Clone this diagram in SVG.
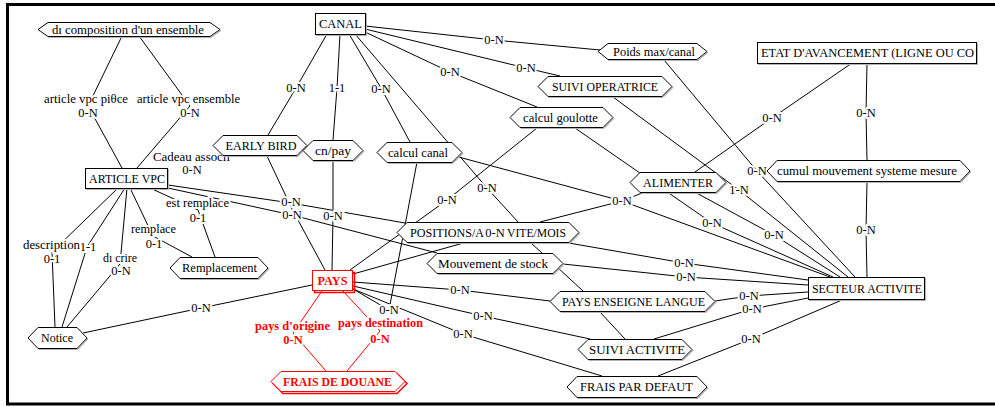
<svg xmlns="http://www.w3.org/2000/svg" width="995" height="407" viewBox="0 0 995 407">
<style>
  .frame { fill: none; stroke: #000; stroke-width: 3; }
  .ln { fill: none; stroke: #000; stroke-width: 1; }
  .red { stroke: #f00; }
  .lb { font-family: "Liberation Serif", "Times New Roman", serif; font-size: 12.5px; text-anchor: middle; fill: #000; stroke: #fff; stroke-width: 4px; paint-order: stroke; stroke-linejoin: round; }
  .lbr { fill: #f00; font-weight: bold; }
  .box { fill: #fff; stroke: #000; stroke-width: 1; filter: url(#drop); }
  .boxr { fill: #fff; stroke: #f00; stroke-width: 1; }
  .shr { fill: none; stroke: #f00; stroke-width: 1.5; }
  .nt { font-family: "Liberation Serif", "Times New Roman", serif; font-size: 12.5px; text-anchor: middle; fill: #000; }
  .st { text-anchor: start; }
  .ntr { fill: #f00; font-weight: bold; }
</style>
<defs>
  <clipPath id="clipEtat"><rect x="758" y="43" width="218" height="20"/></clipPath>
  <!-- thin grey drop shadow under node outlines -->
  <filter id="drop" x="-5%" y="-20%" width="110%" height="150%">
    <feOffset in="SourceAlpha" dx="1" dy="1" result="off"/>
    <feColorMatrix in="off" type="matrix" values="0 0 0 0 0.45  0 0 0 0 0.45  0 0 0 0 0.45  0 0 0 1 0" result="grey"/>
    <feMerge><feMergeNode in="grey"/><feMergeNode in="SourceGraphic"/></feMerge>
  </filter>
</defs>
<rect width="995" height="407" fill="#fff"/>
<rect class="frame" x="7.5" y="4.5" width="1000" height="399.5"/>

<g id="connectors">
  <g class="ln">
    <polyline points="327,34 296,88 268,135"/>
    <polyline points="340,34 337,88 333,140"/>
    <polyline points="349,34 381,88 410,142"/>
    <polyline points="355,34 487,188 518,222"/>
    <polyline points="365,32 450,72 537,107"/>
    <polyline points="365,29 526,68 560,76"/>
    <polyline points="365,26 494,40 600,50"/>
    <polyline points="664,60 757,171 855,277"/>
    <polyline points="613,97 739,190 848,277"/>
    <polyline points="537,128 447,200 350,270"/>
    <polyline points="575,128 712,223 833,277"/>
    <polyline points="852,63 772,118 695,172"/>
    <polyline points="867,63 866,113 867,160"/>
    <polyline points="867,182 866,230 867,277"/>
    <polyline points="678,183 774,235 840,277"/>
    <polyline points="440,152 622,201 830,277"/>
    <polyline points="417,162 389,310 353,289"/>
    <polyline points="540,222 622,201 642,193"/>
    <polyline points="563,242 684,263 808,280"/>
    <polyline points="530,242 583,291"/>
    <polyline points="563,264 686,277 808,285"/>
    <polyline points="715,301 749,296 808,292"/>
    <polyline points="600,312 625,339"/>
    <polyline points="654,339 752,309 808,298"/>
    <polyline points="658,376 751,339 842,300"/>
    <polyline points="353,282 460,290 550,301"/>
    <polyline points="353,286 483,316 590,339"/>
    <polyline points="353,289 463,334 602,376"/>
    <polyline points="312,285 201,308 83,333"/>
    <polyline points="267,156 292,209 325,270"/>
    <polyline points="333,161 333,216 332,270"/>
    <polyline points="353,274 467,242"/>
    <polyline points="122,36 88,106 122,168"/>
    <polyline points="139,36 190,106 137,168"/>
    <polyline points="168,185 291,203 405,223"/>
    <polyline points="168,188 292,215 437,253"/>
    <polyline points="150,188 198,210 215,257"/>
    <polyline points="130,188 153,236 192,257"/>
    <polyline points="118,188 52,252 55,327"/>
    <polyline points="125,188 87,247 62,327"/>
    <polyline points="127,188 120,264 67,327"/>
    <polyline class="red" points="322,291 293,333 326,371"/>
    <polyline class="red" points="343,291 380,331 347,371"/>
  </g>
  <g class="lb">
    <text x="86" y="103" textLength="84" lengthAdjust="spacingAndGlyphs">article vpc piθce</text>
    <text x="88" y="117">0-N</text>
    <text x="188.5" y="103" textLength="103" lengthAdjust="spacingAndGlyphs">article vpc ensemble</text>
    <text x="190" y="117">0-N</text>
    <text x="296" y="92">0-N</text>
    <text x="337" y="92">1-1</text>
    <text x="381" y="93">0-N</text>
    <text x="450" y="76">0-N</text>
    <text x="526" y="72">0-N</text>
    <text x="494" y="44">0-N</text>
    <text x="739" y="194">1-N</text>
    <text x="757" y="175">0-N</text>
    <text x="772" y="122">0-N</text>
    <text x="866" y="117">0-N</text>
    <text x="866" y="234">0-N</text>
    <text x="712" y="227">0-N</text>
    <text x="774" y="239">0-N</text>
    <text x="622" y="205">0-N</text>
    <text x="684" y="267">0-N</text>
    <text x="686" y="281">0-N</text>
    <text x="749" y="300">0-N</text>
    <text x="752" y="313">0-N</text>
    <text x="751" y="343">0-N</text>
    <text x="460" y="294">0-N</text>
    <text x="483" y="320">0-N</text>
    <text x="463" y="338">0-N</text>
    <text x="389" y="314">0-N</text>
    <text x="447" y="204">0-N</text>
    <text x="487" y="192">0-N</text>
    <text x="201" y="312">0-N</text>
    <text x="291" y="206">0-N</text>
    <text x="292" y="219">0-N</text>
    <text x="333" y="220">0-N</text>
    <text x="191.5" y="161" textLength="77" lengthAdjust="spacingAndGlyphs">Cadeau associı</text>
    <text x="192" y="174">0-N</text>
    <text x="197.5" y="207" textLength="63" lengthAdjust="spacingAndGlyphs">est remplace</text>
    <text x="198" y="222">0-1</text>
    <text x="153.5" y="233" textLength="45" lengthAdjust="spacingAndGlyphs">remplace</text>
    <text x="154" y="248">0-1</text>
    <text x="88" y="251">1-1</text>
    <text x="51.5" y="249" textLength="57" lengthAdjust="spacingAndGlyphs">description</text>
    <text x="52" y="263">0-1</text>
    <text x="120" y="262" textLength="34" lengthAdjust="spacingAndGlyphs">dı crire</text>
    <text x="121" y="275">0-N</text>
    <text class="lbr" x="292.5" y="330" textLength="75" lengthAdjust="spacingAndGlyphs">pays d'origine</text>
    <text class="lbr" x="293" y="344">0-N</text>
    <text class="lbr" x="380.5" y="327" textLength="85" lengthAdjust="spacingAndGlyphs">pays destination</text>
    <text class="lbr" x="380" y="343">0-N</text>
  </g>
</g>

<g id="n-decomposition">
  <polygon class="box" points="38,29.5 48,22.5 210,22.5 220,29.5 210,36.5 48,36.5"/>
  <text class="nt" x="128" y="33.5" textLength="152" lengthAdjust="spacingAndGlyphs">dı composition d'un ensemble</text>
</g>
<g id="n-canal">
  <rect class="box" x="315.5" y="13.5" width="50" height="21"/>
  <text class="nt" x="340.5" y="28" textLength="43" lengthAdjust="spacingAndGlyphs">CANAL</text>
</g>
<g id="n-poids">
  <polygon class="box" points="598,51.5 608,43.5 697,43.5 707,51.5 697,59.5 608,59.5"/>
  <text class="nt" x="654" y="55.5" textLength="82" lengthAdjust="spacingAndGlyphs">Poids max/canal</text>
</g>
<g id="n-suivi-operatrice">
  <polygon class="box" points="538,86.5 548,76.5 662,76.5 672,86.5 662,96.5 548,96.5"/>
  <text class="nt" x="605" y="90.5" textLength="106" lengthAdjust="spacingAndGlyphs">SUIVI OPERATRICE</text>
</g>
<g id="n-calcul-goulotte">
  <polygon class="box" points="510,117.5 520,107.5 603,107.5 613,117.5 603,127.5 520,127.5"/>
  <text class="nt" x="560.5" y="121.5" textLength="75" lengthAdjust="spacingAndGlyphs">calcul goulotte</text>
</g>
<g id="n-etat">
  <rect class="box" x="757.5" y="42.5" width="219" height="21"/>
  <text class="nt st" x="761" y="57" textLength="213" lengthAdjust="spacingAndGlyphs" clip-path="url(#clipEtat)">ETAT D'AVANCEMENT (LIGNE OU CO</text>
</g>
<g id="n-article-vpc">
  <rect class="box" x="85.5" y="168.5" width="82" height="20"/>
  <text class="nt" x="127" y="182.5" textLength="76" lengthAdjust="spacingAndGlyphs">ARTICLE VPC</text>
</g>
<g id="n-early-bird">
  <polygon class="box" points="213,145.5 223,135.5 297,135.5 307,145.5 297,155.5 223,155.5"/>
  <text class="nt" x="261" y="149.5" textLength="71" lengthAdjust="spacingAndGlyphs">EARLY BIRD</text>
</g>
<g id="n-cn-pay">
  <polygon class="box" points="303,150.5 313,140.5 353,140.5 363,150.5 353,160.5 313,160.5"/>
  <text class="nt" x="333" y="154.5" textLength="36" lengthAdjust="spacingAndGlyphs">cn/pay</text>
</g>
<g id="n-calcul-canal">
  <polygon class="box" points="377,152.5 387,142.5 452,142.5 462,152.5 452,162.5 387,162.5"/>
  <text class="nt" x="418" y="156.5" textLength="60" lengthAdjust="spacingAndGlyphs">calcul canal</text>
</g>
<g id="n-alimenter">
  <polygon class="box" points="630,182.5 640,172.5 716,172.5 726,182.5 716,192.5 640,192.5"/>
  <text class="nt" x="678" y="186.5" textLength="70" lengthAdjust="spacingAndGlyphs">ALIMENTER</text>
</g>
<g id="n-cumul">
  <polygon class="box" points="767,171 777,160.5 960,160.5 970,171 960,181.5 777,181.5"/>
  <text class="nt" x="867" y="175" textLength="180" lengthAdjust="spacingAndGlyphs">cumul mouvement systeme mesure</text>
</g>
<g id="n-positions">
  <polygon class="box" points="397,232.5 407,222.5 569,222.5 579,232.5 569,242.5 407,242.5"/>
  <text class="nt st" x="410" y="236.5" textLength="74" lengthAdjust="spacingAndGlyphs">POSITIONS/A</text>
  <text class="nt st" x="507" y="236.5" textLength="59" lengthAdjust="spacingAndGlyphs">VITE/MOIS</text>
</g>
<g id="n-mouvement">
  <polygon class="box" points="427,263.5 437,253.5 553,253.5 563,263.5 553,273.5 437,273.5"/>
  <text class="nt" x="493" y="267.5" textLength="110" lengthAdjust="spacingAndGlyphs">Mouvement de stock</text>
</g>
<g id="n-remplacement">
  <polygon class="box" points="170,268 180,257.5 258,257.5 268,268 258,278.5 180,278.5"/>
  <text class="nt" x="219.5" y="272" textLength="75" lengthAdjust="spacingAndGlyphs">Remplacement</text>
</g>
<g id="n-pays">
  <rect class="shr" x="314.5" y="272.5" width="40" height="20"/>
  <rect class="boxr" x="312.5" y="270.5" width="40" height="20"/>
  <text class="nt ntr" x="332.5" y="285" textLength="30" lengthAdjust="spacingAndGlyphs">PAYS</text>
</g>
<g id="n-frais-douane">
  <polygon class="shr" points="273,383.5 283,373.5 397,373.5 407,383.5 397,393.5 283,393.5"/>
  <polygon class="boxr" points="271,381.5 281,371.5 395,371.5 405,381.5 395,391.5 281,391.5"/>
  <text class="nt ntr" x="337.5" y="385.5" textLength="109" lengthAdjust="spacingAndGlyphs">FRAIS DE DOUANE</text>
</g>
<g id="n-notice">
  <polygon class="box" points="28,338 38,327.5 77,327.5 87,338 77,348.5 38,348.5"/>
  <text class="nt" x="57" y="342" textLength="32" lengthAdjust="spacingAndGlyphs">Notice</text>
</g>
<g id="n-pays-enseigne">
  <polygon class="box" points="550,301.5 560,291.5 705,291.5 715,301.5 705,311.5 560,311.5"/>
  <text class="nt" x="633.5" y="305.5" textLength="143" lengthAdjust="spacingAndGlyphs">PAYS ENSEIGNE LANGUE</text>
</g>
<g id="n-suivi-activite">
  <polygon class="box" points="578,349.5 588,339.5 682,339.5 692,349.5 682,359.5 588,359.5"/>
  <text class="nt" x="637" y="353.5" textLength="96" lengthAdjust="spacingAndGlyphs">SUIVI ACTIVITE</text>
</g>
<g id="n-frais-defaut">
  <polygon class="box" points="567,387 577,376.5 697,376.5 707,387 697,397.5 577,397.5"/>
  <text class="nt" x="636.5" y="391" textLength="113" lengthAdjust="spacingAndGlyphs">FRAIS PAR DEFAUT</text>
</g>
<g id="n-secteur">
  <rect class="box" x="808.5" y="277.5" width="116" height="22"/>
  <text class="nt" x="867" y="292.5" textLength="110" lengthAdjust="spacingAndGlyphs">SECTEUR ACTIVITE</text>
</g>

<g id="connector-overlay" class="lb">
  <text x="495" y="236.5">0-N</text>
</g>
</svg>
